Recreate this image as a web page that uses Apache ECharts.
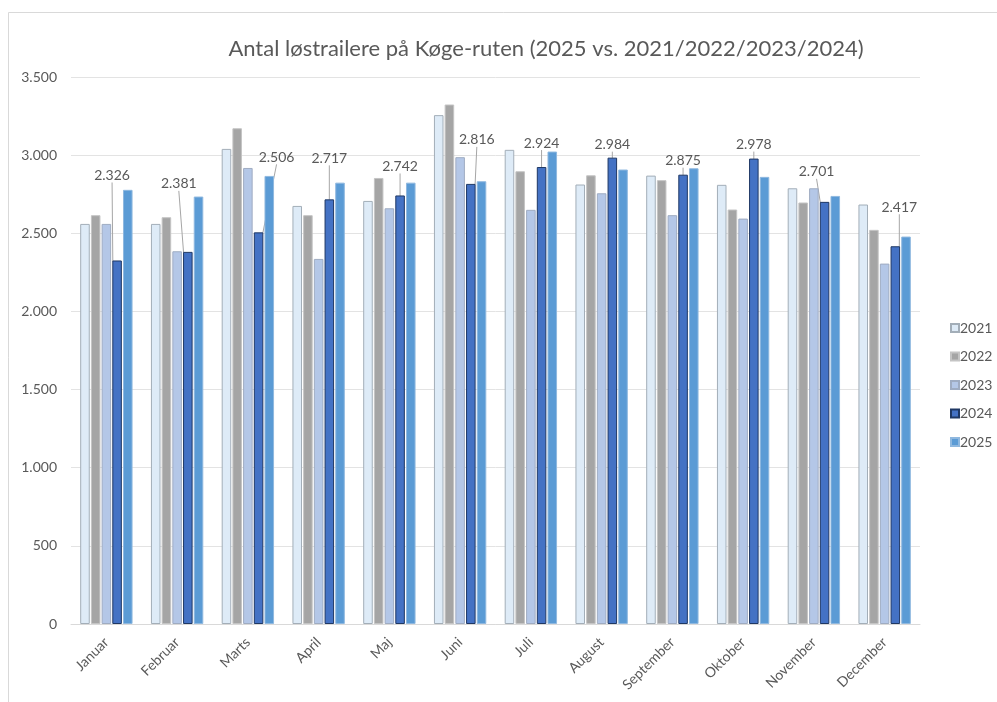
<!DOCTYPE html>
<html>
<head>
<meta charset="utf-8">
<script src="https://cdn.jsdelivr.net/npm/echarts@6/dist/echarts.min.js"></script>
<style>
  html, body { margin: 0; padding: 0; background: #fff; }
  #main { width: 997px; height: 702px; }
</style>
</head>
<body>
<div id="main"></div>
<script>
// måneder
var months = ['Januar', 'Februar', 'Marts', 'April', 'Maj', 'Juni', 'Juli', 'August', 'September', 'Oktober', 'November', 'December'];
// år
var years = ['2021', '2022', '2023', '2024', '2025'];
// antal løstrailere pr. år
var v2021 = [2560, 2560, 3040, 2675, 2707, 3256, 3034, 2812, 2869, 2810, 2788, 2684];
var v2022 = [2616, 2603, 3172, 2616, 2854, 3324, 2897, 2871, 2840, 2652, 2697, 2522];
var v2023 = [2560, 2385, 2918, 2336, 2660, 2987, 2650, 2756, 2616, 2594, 2788, 2306];
var v2024 = [2326, 2381, 2506, 2717, 2742, 2816, 2924, 2984, 2875, 2978, 2701, 2417];
var v2025 = [2778, 2735, 2867, 2824, 2824, 2833, 3023, 2908, 2916, 2861, 2739, 2479];
var yTicks = [0, 500, 1000, 1500, 2000, 2500, 3000, 3500];

// farver (fyld / kant)
var fills = ['#deebf7', '#a5a5a5', '#b4c7e7', '#4472c4', '#5b9bd5'];
var borders = ['#a3aeb8', '#c4c4c4', '#9facc2', '#1f3864', '#8fb8df'];

// flytning af etiketter for 2024 (dx, dy)
var labelShift = [[-5, -74], [-9, -57], [18, -64], [0, -30], [0, -18], [6, -33],
                  [0, -13], [0, -2], [0, -3], [0, -3], [-8, -19], [4, -28]];

var txt = '#595959';
var fnt = 'Lato';

function fmt(n) {
  return String(n).replace(/\B(?=(\d{3})+(?!\d))/g, '.');
}

var chart = echarts.init(document.getElementById('main'));
var allData = [v2021, v2022, v2023, v2024, v2025];

var series = years.map(function (y, i) {
  var s = {
    name: y,
    type: 'bar',
    data: allData[i],
    barCategoryGap: '26%',
    barGap: '12%',
    itemStyle: { color: fills[i], borderColor: borders[i], borderWidth: 1 }
  };
  if (y === '2024') {
    s.label = {
      show: true,
      position: 'top',
      distance: 4,
      color: txt,
      fontFamily: fnt,
      fontSize: 14,
      formatter: function (p) { return fmt(p.value); }
    };
    s.labelLine = { show: true, lineStyle: { color: '#a6a6a6', width: 1 } };
    s.labelLayout = function (p) {
      var d = labelShift[p.dataIndex];
      return { dx: d[0], dy: d[1] };
    };
  }
  return s;
});

var option = {
  backgroundColor: '#fff',
  animation: false,
  title: {
    text: 'Antal løstrailere på Køge-ruten (2025 vs. 2021/2022/2023/2024)',
    left: 541,
    top: 33,
    textAlign: 'center',
    textStyle: { color: txt, fontFamily: fnt, fontSize: 22, fontWeight: 'normal' }
  },
  graphic: [{
    type: 'rect',
    shape: { x: 8.5, y: 12.5, width: 1000, height: 700 },
    style: { fill: 'none', stroke: '#d9d9d9', lineWidth: 1 },
    silent: true
  }],
  legend: {
    orient: 'vertical',
    left: 945,
    top: 316,
    itemWidth: 8,
    itemHeight: 8,
    itemGap: 14.5,
    icon: 'rect',
    data: years,
    textStyle: { color: txt, fontFamily: fnt, fontSize: 14, padding: [0, 0, 0, -4] }
  },
  grid: { left: 71, right: 77, top: 77, bottom: 78 },
  xAxis: {
    type: 'category',
    data: months,
    axisLine: { lineStyle: { color: '#d9d9d9' } },
    axisTick: { show: false },
    axisLabel: {
      rotate: 45,
      interval: 0,
      color: txt,
      fontFamily: fnt,
      fontSize: 14,
      margin: 16
    }
  },
  yAxis: {
    type: 'value',
    min: yTicks[0],
    max: yTicks[yTicks.length - 1],
    interval: 500,
    axisLine: { show: false },
    axisTick: { show: false },
    splitLine: { lineStyle: { color: '#e3e3e3' } },
    axisLabel: {
      color: txt,
      fontFamily: fnt,
      fontSize: 14,
      margin: 14,
      formatter: function (v) { return fmt(v); }
    }
  },
  series: series
};

chart.setOption(option);
</script>
</body>
</html>
